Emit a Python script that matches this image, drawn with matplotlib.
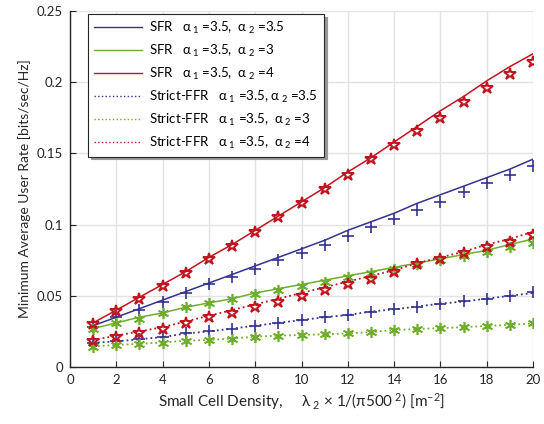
import matplotlib
matplotlib.use("Agg")
import matplotlib.pyplot as plt
from matplotlib.ticker import FuncFormatter

plt.rcParams['font.family'] = ['Lato', 'DejaVu Sans']
plt.rcParams['mathtext.fontset'] = 'custom'
plt.rcParams['mathtext.rm'] = 'Lato'
plt.rcParams['mathtext.it'] = 'Lato'
plt.rcParams['mathtext.default'] = 'rm'

density = list(range(1, 21))

sfr_35_line = [0.029, 0.035, 0.041, 0.047, 0.053, 0.059, 0.065, 0.071, 0.077, 0.083,
               0.089, 0.096, 0.102, 0.108, 0.115, 0.121, 0.127, 0.133, 0.139, 0.146]
sfr_35_sim = [0.028, 0.035, 0.040, 0.046, 0.052, 0.058, 0.063, 0.069, 0.075, 0.080,
              0.086, 0.092, 0.098, 0.104, 0.110, 0.116, 0.123, 0.129, 0.135, 0.141]
sfr_3_line = [0.027, 0.031, 0.035, 0.038, 0.042, 0.045, 0.048, 0.052, 0.055, 0.058,
              0.061, 0.064, 0.067, 0.070, 0.073, 0.076, 0.079, 0.082, 0.086, 0.090]
sfr_3_sim = [0.027, 0.031, 0.034, 0.038, 0.042, 0.045, 0.048, 0.051, 0.054, 0.057,
             0.060, 0.063, 0.066, 0.069, 0.072, 0.075, 0.078, 0.081, 0.084, 0.087]
sfr_4_line = [0.031, 0.040, 0.049, 0.058, 0.067, 0.077, 0.086, 0.096, 0.106, 0.116,
              0.126, 0.137, 0.147, 0.158, 0.169, 0.180, 0.190, 0.201, 0.211, 0.220]
sfr_4_sim = [0.030, 0.039, 0.048, 0.057, 0.066, 0.076, 0.085, 0.095, 0.105, 0.115,
             0.125, 0.135, 0.146, 0.156, 0.166, 0.175, 0.186, 0.196, 0.206, 0.214]

ffr_35_line = [0.017, 0.018, 0.0195, 0.021, 0.0235, 0.025, 0.027, 0.029, 0.031, 0.033,
               0.035, 0.0365, 0.039, 0.0405, 0.0425, 0.0445, 0.046, 0.048, 0.050, 0.052]
ffr_35_sim = [0.017, 0.018, 0.0194, 0.0213, 0.0236, 0.0253, 0.0267, 0.029, 0.031, 0.033,
              0.035, 0.0365, 0.0388, 0.0405, 0.0424, 0.0442, 0.0463, 0.0477, 0.050, 0.0524]
ffr_3_line = [0.0145, 0.0155, 0.0163, 0.0172, 0.0185, 0.019, 0.020, 0.0213, 0.022, 0.0225,
              0.023, 0.0236, 0.0245, 0.026, 0.0267, 0.0273, 0.028, 0.0288, 0.0296, 0.0307]
ffr_3_sim = [0.0143, 0.0155, 0.0162, 0.017, 0.0185, 0.019, 0.0197, 0.0213, 0.022, 0.0225,
             0.023, 0.0236, 0.0243, 0.026, 0.0267, 0.0271, 0.0279, 0.0288, 0.0295, 0.0307]
ffr_4_line = [0.019, 0.022, 0.025, 0.028, 0.032, 0.036, 0.040, 0.044, 0.048, 0.052,
              0.056, 0.060, 0.064, 0.068, 0.073, 0.077, 0.081, 0.086, 0.090, 0.095]
ffr_4_sim = [0.018, 0.021, 0.024, 0.027, 0.031, 0.035, 0.038, 0.042, 0.046, 0.050,
             0.054, 0.058, 0.062, 0.067, 0.072, 0.076, 0.080, 0.084, 0.088, 0.093]

labels = [
    'SFR   α$_{\\ 1}$ =3.5,  α$_{\\ 2}$ =3.5',
    'SFR   α$_{\\ 1}$ =3.5,  α$_{\\ 2}$ =3',
    'SFR   α$_{\\ 1}$ =3.5,  α$_{\\ 2}$ =4',
    'Strict-FFR   α$_{\\ 1}$ =3.5, α$_{\\ 2}$ =3.5',
    'Strict-FFR   α$_{\\ 1}$ =3.5,  α$_{\\ 2}$ =3',
    'Strict-FFR   α$_{\\ 1}$ =3.5,  α$_{\\ 2}$ =4',
]

blue = '#33338f'
green = '#6fae2c'
red = '#c0141f'

fig = plt.figure(figsize=(5.44, 4.24), dpi=100)
ax = fig.add_axes([0.1287, 0.1344, 0.8513, 0.8396])

lw = 1.1
h1, = ax.plot(density, sfr_35_line, '-', color=blue, lw=lw)
h2, = ax.plot(density, sfr_3_line, '-', color=green, lw=lw)
h3, = ax.plot(density, sfr_4_line, '-', color=red, lw=lw)
h4, = ax.plot(density, ffr_35_line, ':', color=blue, lw=1.3)
h5, = ax.plot(density, ffr_3_line, ':', color=green, lw=1.3)
h6, = ax.plot(density, ffr_4_line, ':', color=red, lw=1.3)

ms = 9
ax.plot(density, sfr_35_sim, '+', color=blue, ms=ms, mew=1.2, ls='none')
ax.plot(density, ffr_35_sim, '+', color=blue, ms=ms, mew=1.2, ls='none')
ax.plot(density, sfr_3_sim, marker=(6, 2, 0), color=green, ms=8, mew=1.2, ls='none')
ax.plot(density, ffr_3_sim, marker=(6, 2, 0), color=green, ms=8, mew=1.2, ls='none')
ax.plot(density, sfr_4_sim, marker='*', mec=red, mfc='none', ms=9, mew=1.4, ls='none')
ax.plot(density, ffr_4_sim, marker='*', mec=red, mfc='none', ms=9, mew=1.4, ls='none')

ax.set_xlim(0, 20)
ax.set_ylim(0, 0.25)
ax.set_xticks(range(0, 21, 2))
ax.set_yticks([0, 0.05, 0.1, 0.15, 0.2, 0.25])
ax.yaxis.set_major_formatter(FuncFormatter(lambda v, p: ('%g' % round(v, 3))))
ax.grid(True, color='#e3e3e3', lw=1)
ax.set_axisbelow(True)
for s in ['top', 'right']:
    ax.spines[s].set_visible(False)
for s in ['left', 'bottom']:
    ax.spines[s].set_color('#262626')
    ax.spines[s].set_linewidth(1.0)
ax.tick_params(direction='in', length=4, labelsize=9.5, colors='#262626', pad=5)

ax.set_xlabel('Small Cell Density,     λ$_{\\ 2}$ × 1/(π500$^{\\ 2}$) [m$^{-2}$]', fontsize=11, color='#262626')
ax.set_ylabel('Minimum Average User Rate [bits/sec/Hz]', fontsize=10, color='#262626')

leg = ax.legend([h1, h2, h3, h4, h5, h6], labels, loc='upper left',
                bbox_to_anchor=(0.039, 0.992), borderaxespad=0, fontsize=9.5,
                frameon=True, fancybox=False,
                edgecolor='#262626', framealpha=1, handlelength=3.6, handletextpad=0.6,
                borderpad=0.45, labelspacing=0.52,
                shadow={'ox': 2, 'oy': -2, 'color': '#999999', 'alpha': 1})
leg.get_frame().set_linewidth(0.8)
for line in leg.get_lines():
    line.set_linewidth(1.0)

fig.savefig('out.png', dpi=100)
